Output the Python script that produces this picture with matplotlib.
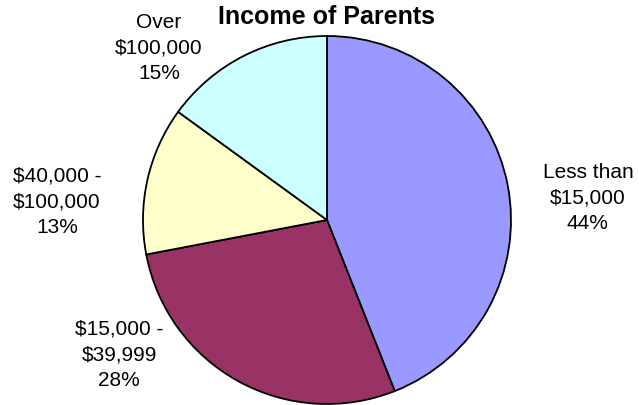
import matplotlib
matplotlib.use("Agg")
import matplotlib.pyplot as plt

categories = ["Less than\n$15,000", "$15,000 -\n$39,999", "$40,000 -\n$100,000", "Over\n$100,000"]
values = [44, 28, 13, 15]
colors = ["#9999FF", "#993366", "#FFFFCC", "#CCFFFF"]
title = "Income of Parents"

W, H = 639, 405
cx, cy, R = 327, 220, 184  # pixel center (from top) and radius

fig = plt.figure(figsize=(W / 100, H / 100), dpi=100)
ax = fig.add_axes([0, 0, 1, 1])
ax.set_xlim(-cx / R, (W - cx) / R)
ax.set_ylim(-(H - cy) / R, cy / R)
ax.set_aspect("equal")
ax.axis("off")

wedges, texts = ax.pie(values, colors=colors, startangle=90, counterclock=False,
                       radius=1.0,
                       wedgeprops=dict(edgecolor="black", linewidth=1.3),
                       labels=[f"{c}\n{v}%" for c, v in zip(categories, values)],
                       labeldistance=1.3,
                       textprops=dict(family="Liberation Sans", fontsize=15,
                                      ha="center", va="center", linespacing=1.45))
ax.set_xlim(-cx / R, (W - cx) / R)
ax.set_ylim(-(H - cy) / R, cy / R)

label_pos = [(1.418, 0.120), (-1.130, -0.734), (-1.467, 0.098), (-0.913, 0.935)]
for t, p in zip(texts, label_pos):
    t.set_position(p)
    t.set_ha("center")
    t.set_va("center")
    t.set_multialignment("center")

fig.text(cx / W, 1 - 17 / H, title, ha="center", va="center",
         family="Liberation Sans", fontsize=18, fontweight="bold")

fig.savefig("out.png", dpi=100)
